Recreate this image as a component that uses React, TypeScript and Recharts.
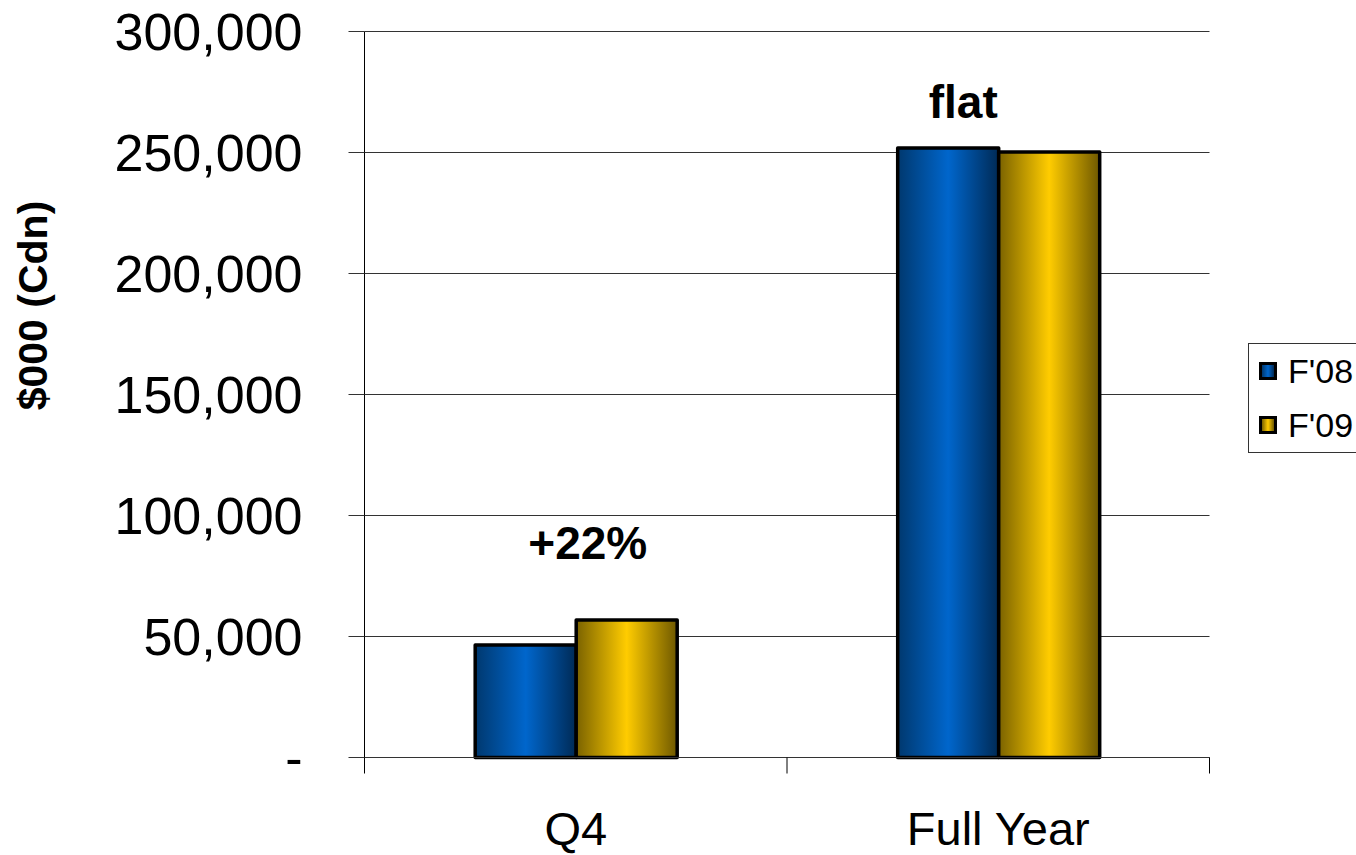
import { BarChart, Bar, XAxis, YAxis, CartesianGrid, Legend, ReferenceDot, Label } from "recharts"

const categories = ["Q4", "Full Year"]
const seriesNames = ["F'08", "F'09"]
const f08Values = [46500, 251900]
const f09Values = [56800, 250200]
const yTicks = [0, 50000, 100000, 150000, 200000, 250000, 300000]
const annotations = ["+22%", "flat"]

const data = categories.map((name, i) => ({
  name,
  f08: f08Values[i],
  f09: f09Values[i],
}))

const FONT = "'Liberation Sans', Arial, sans-serif"
const X_TICK_MARGIN = 54

const legendSwatch: Record<string, string> = {
  "F'08": "linear-gradient(90deg, #00386e 0%, #0066cc 50%, #002a55 100%)",
  "F'09": "linear-gradient(90deg, #7a6200 0%, #ffcc00 50%, #6e5800 100%)",
}

const formatTick = (v: number) => (v === 0 ? "-" : v.toLocaleString("en-US"))

// category label plus the tick marks on the category boundaries
function CategoryTick(props: any) {
  const { x, y, payload, index, visibleTicksCount } = props
  const half = payload.offset || 0
  const axisY = y - X_TICK_MARGIN
  const left = x - half
  const right = x + half
  const last = index === (visibleTicksCount ?? categories.length) - 1
  return (
    <g>
      <line x1={left} x2={left} y1={axisY} y2={axisY + 16} stroke="#000" />
      {last && <line x1={right} x2={right} y1={axisY} y2={axisY + 16} stroke="#000" />}
      <text x={x} y={y} dy="0.71em" textAnchor="middle" fontSize={47} fill="#000" fontFamily={FONT}>
        {payload.value}
      </text>
    </g>
  )
}

function LegendBox({ payload }: any) {
  return (
    <div style={{ border: "1px solid #333", background: "#fff", width: 130, paddingLeft: 10, fontFamily: FONT }}>
      {(payload || []).map((entry: any) => (
        <div key={entry.value} style={{ display: "flex", alignItems: "center", height: 54 }}>
          <span
            style={{
              display: "block",
              flex: "none",
              width: 12,
              height: 12,
              border: "3px solid #000",
              background: legendSwatch[entry.value],
              marginRight: 11,
            }}
          />
          <span style={{ fontSize: 34, color: "#000", lineHeight: "54px" }}>{entry.value}</span>
        </div>
      ))}
    </div>
  )
}

function YTitle(props: any) {
  const vb = props.viewBox || { x: 0, y: 0, height: 0 }
  const x = vb.x + 33
  const y = vb.y + vb.height / 2 - 89
  return (
    <text
      x={x}
      y={y}
      transform={`rotate(-90 ${x} ${y})`}
      textAnchor="middle"
      dominantBaseline="central"
      fontSize={41}
      fontWeight="bold"
      fill="#000"
      fontFamily={FONT}
    >
      $000 (Cdn)
    </text>
  )
}

export default function App() {
  return (
    <div style={{ position: "absolute", left: 0, top: 0, width: 1356, height: 855, overflow: "hidden", background: "#fff" }}>
      <BarChart
        width={1356}
        height={855}
        data={data}
        margin={{ top: 31.5, right: 146.5, left: 0, bottom: 0 }}
        barCategoryGap="26.2%"
        barGap={0}
        style={{ fontFamily: FONT }}
      >
        <defs>
          <linearGradient id="gradBlue" x1="0" y1="0" x2="1" y2="0">
            <stop offset="0%" stopColor="#00386e" />
            <stop offset="50%" stopColor="#0066cc" />
            <stop offset="100%" stopColor="#002a55" />
          </linearGradient>
          <linearGradient id="gradGold" x1="0" y1="0" x2="1" y2="0">
            <stop offset="0%" stopColor="#7a6200" />
            <stop offset="50%" stopColor="#ffcc00" />
            <stop offset="100%" stopColor="#6e5800" />
          </linearGradient>
        </defs>
        <CartesianGrid vertical={false} stroke="#333" strokeWidth={1} />
        <XAxis
          dataKey="name"
          height={97.5}
          tickLine={false}
          tickSize={0}
          tickMargin={X_TICK_MARGIN}
          axisLine={{ stroke: "#333" }}
          tick={<CategoryTick />}
          interval={0}
        />
        <YAxis
          domain={[0, 300000]}
          ticks={yTicks}
          width={364.5}
          tickSize={16}
          tickMargin={46}
          tickFormatter={formatTick}
          axisLine={{ stroke: "#000" }}
          tickLine={{ stroke: "#333" }}
          tick={{ fill: "#000", fontSize: 52 }}
        >
          <Label content={YTitle} />
        </YAxis>
        <Legend
          layout="vertical"
          align="center"
          verticalAlign="middle"
          content={LegendBox}
          wrapperStyle={{ left: 1248, top: 343, width: 150 }}
        />
        <Bar
          dataKey="f08"
          name={seriesNames[0]}
          fill="url(#gradBlue)"
          stroke="#000"
          strokeWidth={3.5}
          strokeLinejoin="round"
          isAnimationActive={false}
        />
        <Bar
          dataKey="f09"
          name={seriesNames[1]}
          fill="url(#gradGold)"
          stroke="#000"
          strokeWidth={3.5}
          strokeLinejoin="round"
          isAnimationActive={false}
        />
        <ReferenceDot
          x={categories[0]}
          y={88800}
          r={0}
          stroke="none"
          fill="none"
          label={{ value: annotations[0], position: "center", dx: 12, fontSize: 46, fontWeight: "bold", fill: "#000" }}
        />
        <ReferenceDot
          x={categories[1]}
          y={271000}
          r={0}
          stroke="none"
          fill="none"
          label={{ value: annotations[1], position: "center", dx: -35, fontSize: 46, fontWeight: "bold", fill: "#000" }}
        />
      </BarChart>
    </div>
  )
}
